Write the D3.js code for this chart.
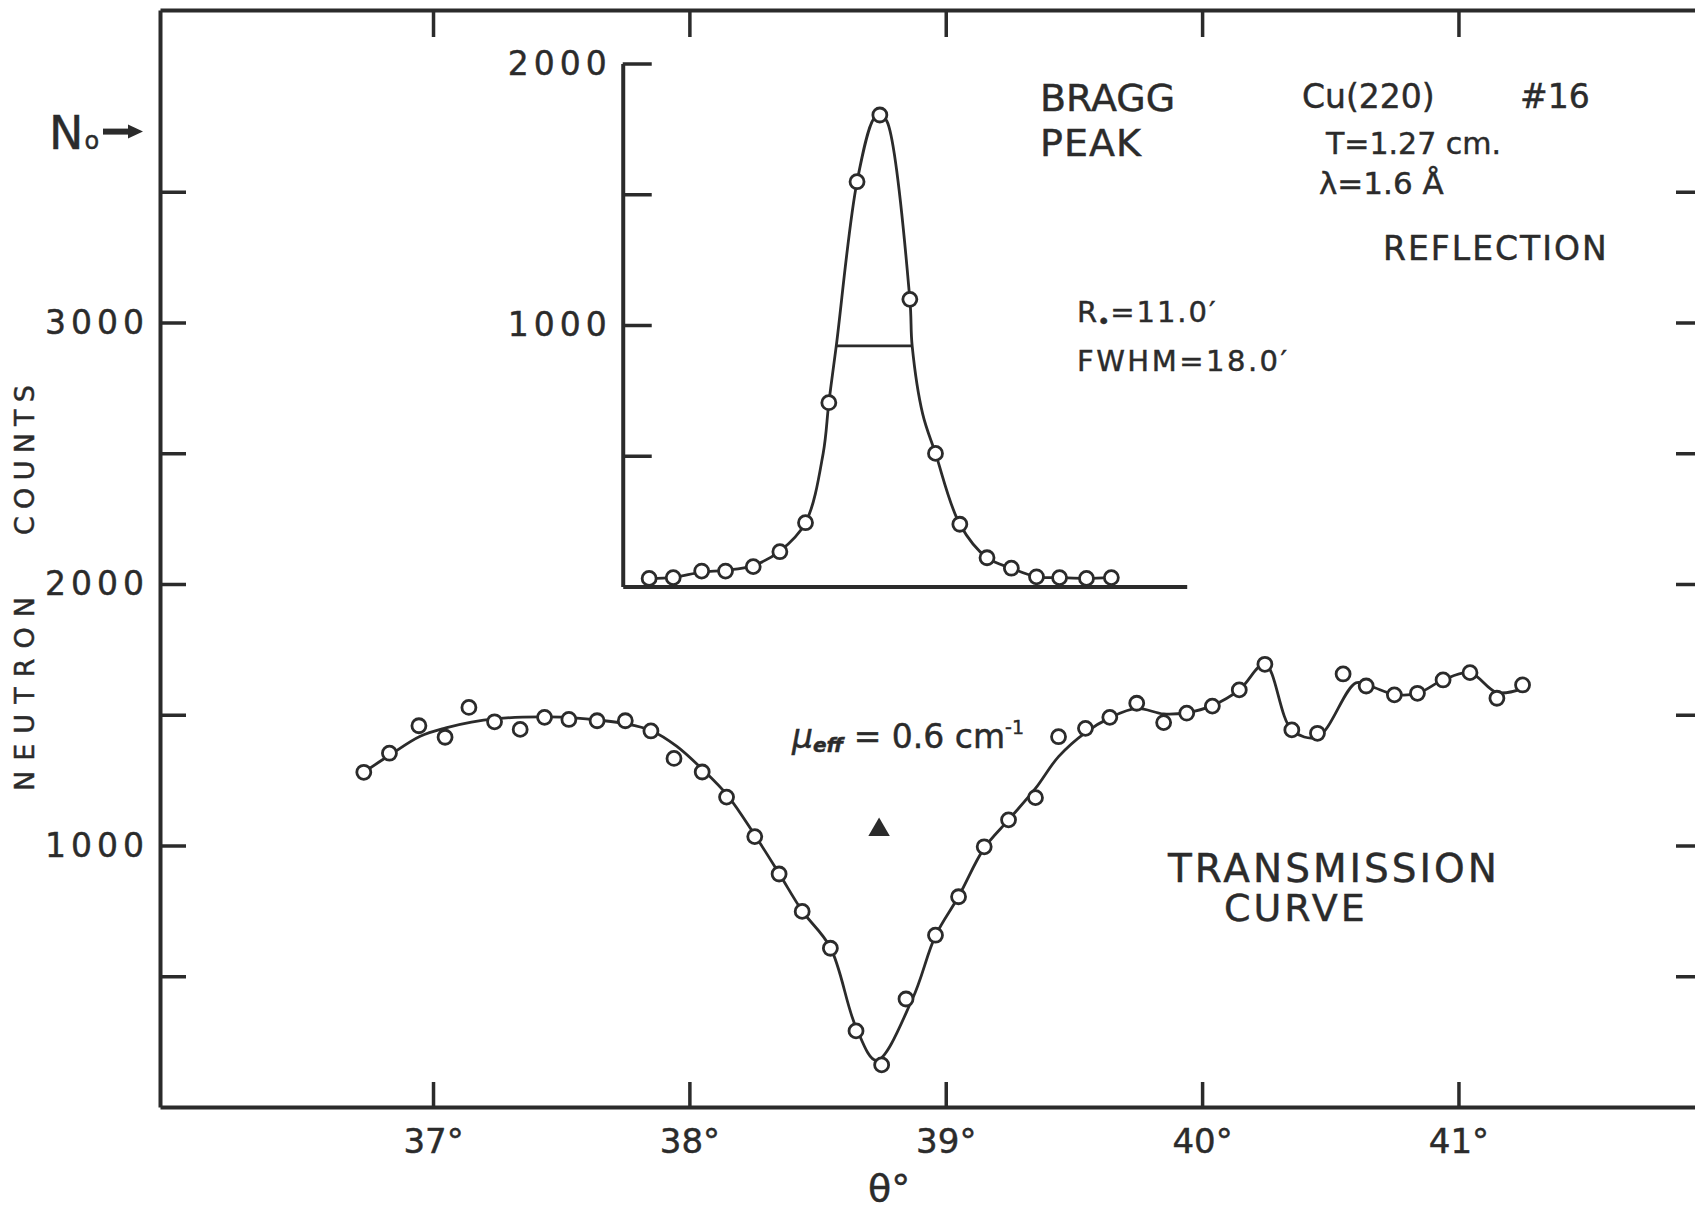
<!DOCTYPE html>
<html>
<head>
<meta charset="utf-8">
<script src="https://cdn.jsdelivr.net/npm/d3@7"></script>
<style>
    body { margin: 0; background: #fff; }
    text { font-family: "DejaVu Sans", sans-serif; fill: #2b2b2b; stroke: #2b2b2b; stroke-width: 0.45px; }
</style>
</head>
<body>
<div id="chart"></div>
<script>
// transmission curve, measured points
const transTheta = [36.73, 36.83, 36.945, 37.047, 37.14, 37.24, 37.34, 37.435, 37.53, 37.64, 37.75, 37.85,
    37.94, 38.05, 38.145, 38.255, 38.35, 38.44, 38.55, 38.65, 38.75, 38.845, 38.96, 39.05, 39.15, 39.245,
    39.35, 39.44, 39.545, 39.64, 39.745, 39.85, 39.94, 40.04, 40.145, 40.245, 40.35, 40.45, 40.55, 40.64,
    40.75, 40.84, 40.94, 41.045, 41.15, 41.25];
const transCounts = [1280, 1353, 1458, 1414, 1528, 1473, 1444, 1490, 1482, 1477, 1477, 1438,
    1333, 1281, 1185, 1034, 891, 748, 607, 291, 161, 413, 657, 804, 995, 1098,
    1183, 1416, 1448, 1490, 1544, 1470, 1506, 1533, 1595, 1693, 1442, 1429, 1656, 1610,
    1576, 1582, 1633, 1661, 1563, 1614];

// hand drawn line through the transmission points
const transCurveTheta = [36.73, 36.83, 36.95, 37.05, 37.15, 37.25, 37.35, 37.45, 37.55, 37.65, 37.75, 37.85,
    37.95, 38.05, 38.15, 38.255, 38.35, 38.44, 38.55, 38.65, 38.73, 38.87, 38.96, 39.05, 39.15, 39.245,
    39.35, 39.44, 39.545, 39.64, 39.745, 39.85, 39.94, 40.04, 40.145, 40.245, 40.35, 40.45, 40.6, 40.66,
    40.75, 40.84, 40.94, 41.045, 41.15, 41.25];
const transCurveCounts = [1280, 1345, 1418, 1450, 1472, 1485, 1491, 1492, 1488, 1479, 1466, 1440,
    1380, 1292, 1190, 1040, 893, 750, 610, 305, 178, 413, 655, 805, 990, 1098,
    1218, 1340, 1432, 1488, 1524, 1503, 1508, 1535, 1595, 1693, 1442, 1415, 1622, 1608,
    1578, 1582, 1633, 1660, 1585, 1600];

// bragg peak (inset), measured points
const braggTheta = [37.843, 37.937, 38.048, 38.141, 38.249, 38.353, 38.453, 38.544, 38.654, 38.743,
    38.86, 38.96, 39.055, 39.161, 39.256, 39.354, 39.444, 39.549, 39.646];
const braggCounts = [31, 34, 59, 59, 76, 133, 244, 703, 1548, 1803, 1098, 509, 238, 110, 70, 37, 34, 31, 34];

const braggCurveTheta = [37.843, 37.937, 38.048, 38.141, 38.249, 38.353, 38.453, 38.522, 38.544, 38.573,
    38.654, 38.72, 38.743, 38.77, 38.86, 38.869, 38.91, 38.96, 39.055, 39.161, 39.256, 39.354, 39.444,
    39.549, 39.646];
const braggCurveCounts = [31, 35, 55, 62, 80, 135, 244, 510, 703, 920,
    1548, 1790, 1803, 1780, 1098, 920, 660, 509, 238, 110, 70, 37, 34,
    31, 34];

const fwhmTheta = [38.573, 38.869];
const fwhmCount = 920;

const xTicks = [37, 38, 39, 40, 41];
const yTicks = [500, 1000, 1500, 2000, 2500, 3000, 3500];
const yLabels = [1000, 2000, 3000];
const insetTicks = [500, 1000, 1500, 2000];
const insetLabels = [1000, 2000];
const insetRange = [37.74, 39.94];
const n0Count = 3730;
const marker = { theta: 38.74, count: 1060 };

const WIDTH = 1695, HEIGHT = 1212;
const INK = '#2b2b2b';

const svg = d3.select('#chart').append('svg')
    .attr('width', WIDTH)
    .attr('height', HEIGHT)
    .attr('viewBox', [0, 0, WIDTH, HEIGHT]);

svg.append('rect').attr('width', WIDTH).attr('height', HEIGHT).attr('fill', '#fff');

// frame runs past the right edge of the picture
const x = d3.scaleLinear().domain([35.935, 41.95]).range([160, 1702]);
const y = d3.scaleLinear().domain([0, 4195]).range([1107, 10]);
const yIn = d3.scaleLinear().domain([0, 2000]).range([586.5, 63.5]);
const xIn = d3.scaleLinear().domain(insetRange).range(insetRange.map(x));

function styleAxis(g, width) {
    g.selectAll('.domain').attr('stroke', INK).attr('stroke-width', width);
    g.selectAll('.tick line').attr('stroke', INK).attr('stroke-width', 3.5);
    g.attr('font-family', null).attr('font-size', null);
    g.selectAll('text').attr('fill', INK);
}

// main frame and inner ticks
svg.append('g').attr('transform', 'translate(160,0)')
    .call(d3.axisLeft(y).tickValues(yTicks).tickSize(-26).tickSizeOuter(0).tickFormat(''))
    .call(g => styleAxis(g, 4));
svg.append('g').attr('transform', 'translate(1702,0)')
    .call(d3.axisRight(y).tickValues(yTicks).tickSize(-26).tickSizeOuter(0).tickFormat(''))
    .call(g => styleAxis(g, 4));
svg.append('g').attr('transform', 'translate(0,10)')
    .call(d3.axisTop(x).tickValues(xTicks).tickSize(-27).tickSizeOuter(0).tickFormat(''))
    .call(g => styleAxis(g, 4));
svg.append('g').attr('transform', 'translate(0,1107)')
    .call(d3.axisBottom(x).tickValues(xTicks).tickSize(-25).tickSizeOuter(0).tickPadding(22)
        .tickFormat(d => d + '°'))
    .call(g => styleAxis(g, 4))
    .call(g => g.selectAll('text').attr('font-size', 34));

// y labels
svg.append('g').attr('transform', 'translate(160,0)')
    .call(d3.axisLeft(y).tickValues(yLabels).tickSize(0).tickPadding(11).tickFormat(d3.format('d')))
    .call(g => g.select('.domain').remove())
    .call(g => styleAxis(g, 0))
    .call(g => g.selectAll('text').attr('font-size', 33).attr('letter-spacing', 5));

// inset axes
svg.append('g').attr('transform', `translate(${xIn.range()[0]},0)`)
    .call(d3.axisLeft(yIn).tickValues(insetTicks).tickSize(-29).tickSizeOuter(0).tickFormat(''))
    .call(g => styleAxis(g, 4));
svg.append('g').attr('transform', `translate(${xIn.range()[0]},0)`)
    .call(d3.axisLeft(yIn).tickValues(insetLabels).tickSize(0).tickPadding(11).tickFormat(d3.format('d')))
    .call(g => g.select('.domain').remove())
    .call(g => styleAxis(g, 0))
    .call(g => g.selectAll('text').attr('font-size', 33).attr('letter-spacing', 5));
svg.append('g').attr('transform', `translate(0,${yIn(0)})`)
    .call(d3.axisBottom(xIn).tickValues([]).tickSizeOuter(0))
    .call(g => styleAxis(g, 4));

// curves
const transLine = d3.line()
    .x(i => x(transCurveTheta[i]))
    .y(i => y(transCurveCounts[i]))
    .curve(d3.curveCatmullRom.alpha(0.5));
svg.append('path')
    .attr('d', transLine(d3.range(transCurveTheta.length)))
    .attr('fill', 'none').attr('stroke', INK).attr('stroke-width', 2.8);

const braggLine = d3.line()
    .x(i => x(braggCurveTheta[i]))
    .y(i => yIn(braggCurveCounts[i]))
    .curve(d3.curveCatmullRom.alpha(0.5));
svg.append('path')
    .attr('d', braggLine(d3.range(braggCurveTheta.length)))
    .attr('fill', 'none').attr('stroke', INK).attr('stroke-width', 2.8);

svg.append('line')
    .attr('x1', x(fwhmTheta[0])).attr('x2', x(fwhmTheta[1]))
    .attr('y1', yIn(fwhmCount)).attr('y2', yIn(fwhmCount))
    .attr('stroke', INK).attr('stroke-width', 2.8);

// points
svg.append('g').selectAll('circle')
    .data(d3.range(transTheta.length))
    .join('circle')
    .attr('cx', i => x(transTheta[i]))
    .attr('cy', i => y(transCounts[i]))
    .attr('r', 7)
    .attr('fill', '#fff').attr('stroke', INK).attr('stroke-width', 2.8);

svg.append('g').selectAll('circle')
    .data(d3.range(braggTheta.length))
    .join('circle')
    .attr('cx', i => x(braggTheta[i]))
    .attr('cy', i => yIn(braggCounts[i]))
    .attr('r', 7)
    .attr('fill', '#fff').attr('stroke', INK).attr('stroke-width', 2.8);

svg.append('path')
    .attr('d', d3.symbol(d3.symbolTriangle, 200)())
    .attr('transform', `translate(${x(marker.theta)},${y(marker.count)})`)
    .attr('fill', INK);

// N0 arrow
const n0y = y(n0Count);
const n0 = svg.append('text').attr('x', 49).attr('y', n0y + 17).attr('font-size', 46);
n0.append('tspan').text('N');
n0.append('tspan').attr('font-size', 24).attr('dx', 1).text('o');
svg.append('line').attr('x1', 103).attr('x2', 131).attr('y1', n0y).attr('y2', n0y)
    .attr('stroke', INK).attr('stroke-width', 6);
svg.append('path')
    .attr('d', `M128,${n0y - 7}L143,${n0y}L128,${n0y + 7}Z`)
    .attr('fill', INK);

// axis titles
svg.append('text').attr('transform', 'translate(34,460) rotate(-90)')
    .attr('text-anchor', 'middle').attr('font-size', 27)
    .attr('textLength', 150).text('COUNTS');
svg.append('text').attr('transform', 'translate(34,694) rotate(-90)')
    .attr('text-anchor', 'middle').attr('font-size', 27)
    .attr('textLength', 194).text('NEUTRON');
svg.append('text').attr('x', 868).attr('y', 1201).attr('font-size', 38).text('θ°');

// annotations
function label(tx, ty, size, str, spacing) {
    return svg.append('text')
        .attr('x', tx).attr('y', ty)
        .attr('font-size', size)
        .attr('letter-spacing', spacing || 0)
        .text(str);
}
label(1040, 111, 38, 'BRAGG');
label(1040, 156, 38, 'PEAK', 1);
label(1302, 108, 33, 'Cu(220)');
label(1520, 108, 33, '#16');
label(1326, 154, 30, 'T=1.27 cm.');
label(1319, 194, 31, 'λ=1.6 Å');
label(1383, 260, 33, 'REFLECTION', 2);
label(1168, 882, 39, 'TRANSMISSION', 3);
label(1224, 921, 38, 'CURVE', 3);
label(1077, 371, 29, 'FWHM=18.0′', 2.5);

const r0 = svg.append('text').attr('x', 1077).attr('y', 322).attr('font-size', 29);
r0.append('tspan').text('R');
r0.append('tspan').attr('font-size', 22).attr('dy', 7).text('•');
r0.append('tspan').attr('dy', -7).attr('letter-spacing', 2).text('=11.0′');

const mu = svg.append('text').attr('x', 792).attr('y', 748).attr('font-size', 33);
mu.append('tspan').attr('font-style', 'italic').text('μ');
mu.append('tspan').attr('font-size', 20).attr('font-style', 'italic').attr('font-weight', 'bold')
    .attr('dy', 4).text('eff');
mu.append('tspan').attr('dy', -4).text(' = 0.6 cm');
mu.append('tspan').attr('font-size', 19).attr('dy', -14).text('-1');
</script>
</body>
</html>
